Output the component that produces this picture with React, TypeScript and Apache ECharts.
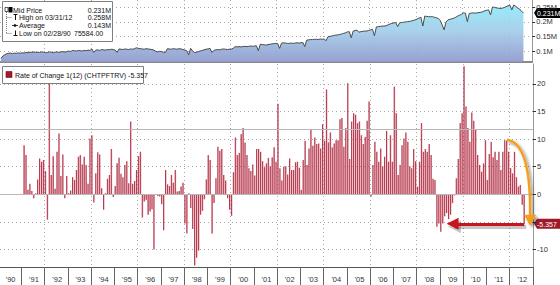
import React, { useEffect, useRef } from "react";
import * as echarts from "echarts";

// ---------- data ----------
const yearLabels = ["'90","'91","'92","'93","'94","'95","'96","'97","'98","'99","'00","'01","'02","'03","'04","'05","'06","'07","'08","'09","'10","'11","'12"];
const firstYear = 1990;
const firstMonth = 2; // series starts Feb 1990

// Mid price, thousands, monthly from Feb 1990
const midPriceK = [
  75.6, 84, 88, 92, 93, 94, 92, 94, 93, 95,
  93, 95, 94, 96, 95, 97, 96, 98, 96, 97,
  96, 98, 97, 95, 96, 98, 97, 95, 97, 98,
  96, 98, 99, 97, 99, 101, 99, 103, 102, 101,
  103, 102, 101, 103, 102, 104, 103, 108, 96, 104,
  105, 103, 106, 105, 104, 106, 105, 107, 106, 104,
  96, 108, 107, 106, 108, 107, 106, 108, 107, 109,
  112, 110, 109, 108, 107, 109, 108, 107, 106, 104,
  100, 98, 100, 99, 97, 96, 109, 108, 107, 109,
  108, 107, 109, 108, 106, 104, 102, 88, 110, 102,
  95, 97, 99, 101, 103, 105, 107, 108, 110, 96,
  103, 105, 106, 105, 107, 108, 107, 106, 107, 107,
  110, 116, 115, 116, 115, 116, 117, 116, 117, 118,
  117, 118, 119, 102, 124, 123, 122, 121, 123, 124,
  125, 126, 127, 126, 110, 128, 129, 128, 127, 127,
  128, 127, 128, 129, 128, 129, 130, 116, 138, 139,
  140, 140, 141, 141, 140, 142, 141, 142, 136, 150,
  151, 152, 154, 155, 156, 157, 159, 161, 163, 166,
  167, 146, 169, 171, 172, 165, 167, 168, 169, 169,
  171, 173, 175, 153, 183, 184, 185, 186, 186, 187,
  190, 193, 195, 197, 198, 184, 197, 198, 199, 200,
  201, 202, 203, 205, 207, 210, 213, 216, 186, 220,
  219, 218, 218, 218, 216, 214, 212, 205, 190, 173,
  200, 207, 209, 211, 213, 216, 220, 223, 226, 231,
  230, 201, 229, 230, 231, 230, 231, 232, 233, 235,
  238, 240, 241, 224, 251, 250, 248, 247, 246, 247,
  249, 252, 255, 257, 241, 258, 253, 248, 244, 236,
  231
];

// 12-month rate of change, %, monthly from Feb 1991
const rocStart = "1991-02";
const rateOfChange = [
  8.9, 7.1, 0.8, 1.9, 0.6, -0.7, 0.2, 2.7, 6.5, 5.9,
  6.2, 4.2, -4.6, 20.7, 3.5, 6.9, 1.0, 7.7, 11.0, 3.3,
  7.2, -0.7, 3.3, 0.2, 0.7, 3.1, 2.6, 4.4, 6.8, 7.1,
  5.4, 6.8, 5.3, 1.9, 10.1, 10.7, -1.5, 3.8, 7.6, 7.2,
  1.1, -2.8, 0.2, 2.8, 3.5, 8.2, -0.5, 1.5, 5.6, 6.6,
  3.7, 3.1, 5.3, 6.0, 2.0, 13.2, 1.9, 2.4, 4.4, 6.9,
  7.7, -4.2, -1.3, -1.0, -3.7, -3.1, -2.7, -10.0, -0.1, -0.3,
  -0.4, -1.8, -6.5, 4.4, 1.8, 1.5, 3.5, 2.1, 4.4, 0.5,
  0.6,
  1.4, 2.1, -5.3, -7.1, 0.2, -2.5, -6.3, -12.9, -11.5, -10.2,
  -3.7, -3.0, -0.9, 2.7, 7.1, 6.2, -7.1, -1.6, 2.9, 8.6,
  7.9, 8.2, 3.5, 2.5, -0.7, -2.8, -3.9, 4.0, 10.3, 7.1,
  7.5, 10.9, 12.0, 9.4, 7.1, 4.7, 4.2, 5.4, 3.4, 8.2,
  8.2, 7.7, 6.0, 4.9, 5.6, 6.6, 5.1, 6.7, 8.5, 5.9,
  16.4, 4.7, 2.5, 5.0, 5.1, 3.6, 6.5, 4.4, 4.4, 5.8,
  5.9, 4.8, 0.8, 6.2, 9.7, 5.3, 8.3, 11.8, 8.8, 10.3,
  9.1, 9.2, 8.3, 12.7, 9.7, 19.0, 9.4, 11.2, 8.5, 9.2,
  9.8, 9.8, 13.6,
  13.8, 8.6, 12.0, 20.1, 6.4, 13.2, 14.7, 14.4, 12.9, 13.2,
  10.7, 9.1, 10.4, 13.3, 16.8, -0.4, 5.3, 9.5, 7.7, 5.9,
  8.3, 5.1, 6.8, 11.5, 5.9, 10.7, 5.9, 19.5, 14.7, 3.5,
  5.3, 8.9, 10.1, 11.2, 9.5, 5.1, 4.7, 8.2, 6.0, 1.4,
  5.9, 12.9, 7.7, 8.2, 7.7, 9.1, 7.1, 2.8, 2.6, -5.9,
  -5.3, -6.8, -5.3, -4.0, -3.4, -4.5, -3.7, -1.6, -0.2, 2.9,
  6.4, 12.9, 14.7, 23.2, 15.9, 12.0, 9.5, 14.8, 13.3, 11.7,
  7.1, 5.3, 4.1, 5.6, 9.8, 2.6, 7.3, 9.5, 6.7, 7.7,
  6.2, 7.7, 4.4, 7.7, 9.8, 9.7, 7.7, 4.7, 3.8, 7.7,
  3.1, 1.4, 1.7, -1.9, -5.357
];

const priceTicks = [100, 150, 200, 250];
const rocTicks = [-10, -5, 0, 5, 10, 15, 20];
const rocTickLabels = [-10, 0, 5, 10, 15, 20];
const rocRefLevel = 11.8;
const legendRows = [
  { label: "Mid Price", value: "0.231M" },
  { label: "High on 03/31/12", value: "0.258M" },
  { label: "Average", value: "0.143M" },
  { label: "Low on 02/28/90", value: "75584.00" },
];
const lastPrice = 231;
const lastPriceText = "0.231M";
const lastRoc = -5.357;
const rocTitle = "Rate of Change 1(12) (CHTPFTRV) -5.357";
// annotation anchors (month, value)
const orangeFrom = "2011-11";
const orangeTip: [string, number] = ["2012-11", -5.7];
const redFrom = "2012-08";
const redTo = "2009-07";
const shadowShift = 0.5; // value units for the drop shadow of the red arrow

// ---------- helpers ----------
const months: string[] = [];
for (let y = firstYear; y < firstYear + yearLabels.length; y++) {
  for (let m = 1; m <= 12; m++) {
    if (y === firstYear && m < firstMonth) continue;
    months.push(`${y}-${String(m).padStart(2, "0")}`);
  }
}
const monthOf = (i: number) => Number(months[i].slice(5));
const yearOf = (i: number) => Number(months[i].slice(0, 4));
const isYearStart = (i: number) => monthOf(i) === 1;
const isEvenYearStart = (i: number) => monthOf(i) === 1 && yearOf(i) % 2 === 0;
const isMidYear = (i: number) => monthOf(i) === 7;
const shiftMonth = (m: string, d: number) => months[months.indexOf(m) + d];

const rocStartIdx = months.indexOf(rocStart);
const rocData = months.map((_, i) =>
  i >= rocStartIdx && i - rocStartIdx < rateOfChange.length ? rateOfChange[i - rocStartIdx] : null
);
const priceData = months.map((_, i) => (i < midPriceK.length ? midPriceK[i] : null));

const GRID_RIGHT = 27;
const FONT = '"Liberation Sans", Arial, sans-serif';
const gridDot = { color: "#a8a8a8", type: [1, 3] as any, width: 1 };

export default function App() {
  const ref = useRef<HTMLDivElement>(null);
  useEffect(() => {
    document.body.style.margin = "0";
    const chart = echarts.init(ref.current!, null, { renderer: "svg" });
    const option: any = {
      animation: false,
      backgroundColor: "#ffffff",
      textStyle: { fontFamily: FONT },
      grid: [
        { left: 0, right: GRID_RIGHT, top: 0, height: 62 },
        { left: 0, right: GRID_RIGHT, top: 64, height: 203 },
      ],
      xAxis: [
        {
          type: "category", gridIndex: 0, data: months, boundaryGap: true,
          axisLine: { show: true, onZero: false, lineStyle: { color: "#8a8a8a", width: 2 } },
          axisTick: { show: false }, axisLabel: { show: false },
          splitLine: { show: true, interval: (i: number) => isEvenYearStart(i), lineStyle: gridDot },
        },
        {
          type: "category", gridIndex: 1, data: months, boundaryGap: true,
          axisLine: { show: true, onZero: false, lineStyle: { color: "#555", width: 1 } },
          axisTick: { show: true, length: 18, interval: (i: number) => isYearStart(i), lineStyle: { color: "#666" } },
          axisLabel: {
            show: true, interval: (i: number) => isMidYear(i),
            formatter: (v: string) => yearLabels[Number(v.slice(0, 4)) - firstYear],
            fontSize: 7.5, color: "#333", margin: 8, fontFamily: FONT,
          },
          splitLine: { show: true, interval: (i: number) => isEvenYearStart(i), lineStyle: gridDot },
        },
      ],
      yAxis: [
        {
          type: "value", gridIndex: 0, position: "right", min: 63.5, max: 274.9,
          axisLine: { show: true, lineStyle: { color: "#999" } },
          axisTick: { show: true, length: 3, customValues: priceTicks, lineStyle: { color: "#333" } },
          axisLabel: { customValues: priceTicks, formatter: (v: number) => `${v / 1000}M`, fontSize: 7.5, color: "#333", margin: 4, fontFamily: FONT },
          splitLine: { show: true, lineStyle: gridDot },
        },
        {
          type: "value", gridIndex: 1, position: "right", min: -13.17, max: 23.6,
          axisLine: { show: true, lineStyle: { color: "#999" } },
          axisTick: { show: true, length: 3, customValues: rocTicks, lineStyle: { color: "#333" } },
          axisLabel: { customValues: rocTickLabels, formatter: (v: number) => String(v), fontSize: 7.5, color: "#333", margin: 4, fontFamily: FONT },
          splitLine: { show: true, lineStyle: gridDot },
        },
      ],
      series: [
        {
          name: "Mid Price", type: "line", xAxisIndex: 0, yAxisIndex: 0, data: priceData,
          showSymbol: false, symbol: "none",
          lineStyle: { color: "#4a4a4a", width: 1 },
          areaStyle: {
            origin: "start", opacity: 0.92,
            color: new echarts.graphic.LinearGradient(0, 0, 0, 1, [
              { offset: 0, color: "#8ee9fa" },
              { offset: 0.45, color: "#a3cdea" },
              { offset: 1, color: "#8f98cc" },
            ]),
          },
        },
        {
          name: "Rate of Change", type: "bar", xAxisIndex: 1, yAxisIndex: 1, data: rocData,
          barWidth: "72%",
          itemStyle: {
            color: new echarts.graphic.LinearGradient(0, 0, 1, 0, [
              { offset: 0, color: "#a0122a" },
              { offset: 1, color: "#d97f8d" },
            ]),
          },
          markLine: {
            silent: true, symbol: "none", label: { show: false },
            lineStyle: { color: "#b8b8b8", type: "solid", width: 1 },
            data: [{ yAxis: 0 }, { yAxis: rocRefLevel }],
          },
        },
        {
          name: "annotations", type: "line", xAxisIndex: 1, yAxisIndex: 1, data: [], clip: false, z: 20,
          markLine: {
            silent: true, label: { show: false },
            data: [
              [
                {
                  coord: [shiftMonth(redFrom, 1), lastRoc - shadowShift], symbol: "none",
                  lineStyle: { color: "rgba(0,0,0,0.22)", width: 4, type: "solid" },
                },
                { coord: [shiftMonth(redTo, 1), lastRoc - shadowShift], symbol: "triangle", symbolSize: [13, 13], itemStyle: { color: "rgba(0,0,0,0.22)" } },
              ],
              [
                {
                  coord: [redFrom, lastRoc], symbol: "none",
                  lineStyle: { color: "#c8141c", width: 3, type: "solid" },
                  itemStyle: { color: "#c8141c" },
                },
                { coord: [redTo, lastRoc], symbol: "triangle", symbolSize: [12, 12], itemStyle: { color: "#c8141c" } },
              ],
            ],
          },
        },
      ],
    };
    chart.setOption(option);

    const W = chart.getWidth();
    const axisX = W - GRID_RIGHT;
    const py = chart.convertToPixel({ yAxisIndex: 0 }, lastPrice) as unknown as number;
    const ry = chart.convertToPixel({ yAxisIndex: 1 }, lastRoc) as unknown as number;
    const o0 = chart.convertToPixel({ gridIndex: 1 }, [orangeFrom, rocData[months.indexOf(orangeFrom)] as number]) as unknown as number[];
    const oT = chart.convertToPixel({ gridIndex: 1 }, orangeTip) as unknown as number[];
    const headH = 11;
    const shadow = { shadowBlur: 3, shadowColor: "rgba(0,0,0,0.45)", shadowOffsetX: 2, shadowOffsetY: 2 };
    const orange = "#f59e1b";

    const tag = (y: number, fill: string, text: string) => ({
      type: "group", z: 100,
      children: [
        { type: "polygon", shape: { points: [[axisX + 1, y], [axisX + 4, y - 5], [W, y - 5], [W, y + 5], [axisX + 4, y + 5]] }, style: { fill } },
        { type: "text", x: axisX + 4, y: y + 0.5, style: { text, fill: "#fff", font: `7px ${FONT}`, verticalAlign: "middle" } },
      ],
    });
    const txt = (x: number, y: number, text: string, extra: any = {}) => ({
      type: "text", x, y, z: 101, style: { text, fill: "#111", font: `7px ${FONT}`, verticalAlign: "middle", ...extra },
    });
    const rowY = [10, 17.5, 25.5, 33.5];
    const graphic: any[] = [
      { type: "rect", z: 100, shape: { x: 2.5, y: 1.5, width: 110, height: 40 }, style: { fill: "#fff", stroke: "#7f7f7f", lineWidth: 1 } },
      { type: "line", z: 101, shape: { x1: 6.5, y1: 12, x2: 6.5, y2: 34 }, style: { stroke: "#555", lineWidth: 0.8, lineDash: [1, 1] } },
      { type: "rect", z: 101, shape: { x: 5, y: 7.5, width: 3, height: 4 }, style: { fill: "#fff", stroke: "#333", lineWidth: 0.8 } },
      { type: "rect", z: 101, shape: { x: 8.5, y: 7, width: 4, height: 5.5 }, style: { fill: "#000" } },
      { type: "line", z: 101, shape: { x1: 13.5, y1: 14.5, x2: 17.5, y2: 14.5 }, style: { stroke: "#111", lineWidth: 1 } },
      { type: "line", z: 101, shape: { x1: 15.5, y1: 14.5, x2: 15.5, y2: 20 }, style: { stroke: "#111", lineWidth: 1 } },
      { type: "line", z: 101, shape: { x1: 12, y1: 25.5, x2: 18, y2: 25.5 }, style: { stroke: "#111", lineWidth: 0.8 } },
      { type: "circle", z: 101, shape: { cx: 15, cy: 25.5, r: 1.3 }, style: { fill: "#111" } },
      { type: "line", z: 101, shape: { x1: 15.5, y1: 30.5, x2: 15.5, y2: 35.5 }, style: { stroke: "#111", lineWidth: 1 } },
      { type: "line", z: 101, shape: { x1: 13.5, y1: 35.5, x2: 17.5, y2: 35.5 }, style: { stroke: "#111", lineWidth: 1 } },
      { type: "line", z: 101, shape: { x1: 6.5, y1: 17.5, x2: 12, y2: 17.5 }, style: { stroke: "#555", lineWidth: 0.8, lineDash: [1, 1] } },
      { type: "line", z: 101, shape: { x1: 6.5, y1: 33.5, x2: 12, y2: 33.5 }, style: { stroke: "#555", lineWidth: 0.8, lineDash: [1, 1] } },
      txt(13, rowY[0], legendRows[0].label),
      txt(19, rowY[1], legendRows[1].label),
      txt(19, rowY[2], legendRows[2].label),
      txt(19, rowY[3], legendRows[3].label),
      txt(111, rowY[0], legendRows[0].value, { align: "right" }),
      txt(111, rowY[1], legendRows[1].value, { align: "right" }),
      txt(111, rowY[2], legendRows[2].value, { align: "right" }),
      txt(74, rowY[3], legendRows[3].value),
      { type: "rect", z: 100, shape: { x: 2.5, y: 66.5, width: 141, height: 17 }, style: { fill: "#fff", stroke: "#7f7f7f", lineWidth: 1 } },
      { type: "rect", z: 101, shape: { x: 6, y: 71.5, width: 6, height: 6 }, style: { fill: "#a8172f", stroke: "#6a0d1a", lineWidth: 0.6 } },
      txt(15, 75, rocTitle),
      // orange curved arrow
      {
        type: "bezierCurve", z: 90,
        shape: { x1: o0[0], y1: o0[1] - 1, x2: oT[0], y2: oT[1] - headH + 1, cpx1: oT[0] + 1, cpy1: o0[1] + 2 },
        style: { stroke: orange, lineWidth: 2.5, fill: "none", ...shadow },
      },
      {
        type: "polygon", z: 91,
        shape: { points: [[oT[0] - 6, oT[1] - headH], [oT[0] + 6, oT[1] - headH], [oT[0], oT[1]]] },
        style: { fill: orange, ...shadow },
      },
      tag(py, "#000000", lastPriceText),
      tag(ry, "#9e1a2b", String(lastRoc)),
    ];
    chart.setOption({ graphic });
    return () => chart.dispose();
  }, []);
  return <div ref={ref} style={{ width: 560, height: 285, position: "fixed", left: 0, top: 0 }} />;
}
